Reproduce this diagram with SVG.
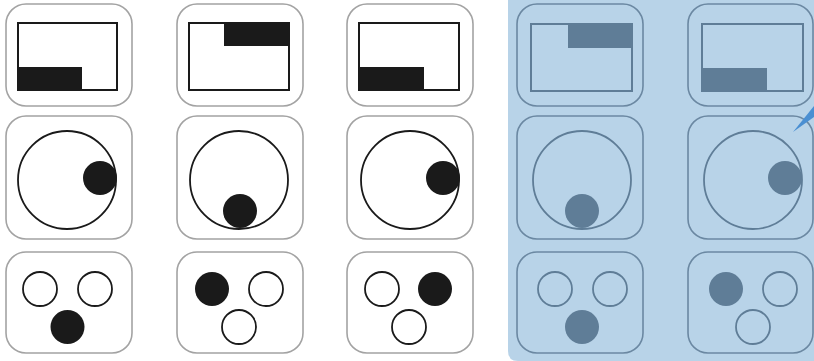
<svg xmlns="http://www.w3.org/2000/svg" width="814" height="361" viewBox="0 0 814 361">
<style>
.tile{fill:#ffffff;stroke:#a3a3a3;stroke-width:1.6}
.btile{fill:none;stroke:#6b88a2;stroke-width:1.6}
.frame{fill:none;stroke:#1a1a1a;stroke-width:2}
.bframe{fill:none;stroke:#5f7d97;stroke-width:2}
.blk{fill:#1a1a1a}
.dk{fill:#5f7d97}
.ring{fill:none;stroke:#1a1a1a;stroke-width:1.8}
.bring{fill:none;stroke:#5f7d97;stroke-width:1.8}
</style>
<rect x="0" y="0" width="814" height="361" fill="#ffffff"/>
<g id="panel">
<path d="M508,0 H814 V361 H518 Q508,361 508,351 Z" fill="#b8d3e8"/>
</g>
<g id="c1r1">
<rect class="tile" x="6" y="4" width="126" height="102" rx="20"/>
<rect class="frame" x="18" y="23" width="99" height="67"/>
<rect class="blk" x="18" y="67" width="64" height="23"/>
</g>
<g id="c2r1">
<rect class="tile" x="177" y="4" width="126" height="102" rx="20"/>
<rect class="frame" x="189" y="23" width="100" height="67"/>
<rect class="blk" x="224" y="23" width="65" height="23"/>
</g>
<g id="c3r1">
<rect class="tile" x="347" y="4" width="126" height="102" rx="20"/>
<rect class="frame" x="359" y="23" width="100" height="67"/>
<rect class="blk" x="359" y="67" width="65" height="23"/>
</g>
<g id="c4r1">
<rect class="btile" x="517" y="4" width="126" height="102" rx="20"/>
<rect class="bframe" x="531" y="24" width="101" height="67"/>
<rect class="dk" x="568" y="24" width="64" height="24"/>
</g>
<g id="c5r1">
<rect class="btile" x="688" y="4" width="125" height="102" rx="20"/>
<rect class="bframe" x="702" y="24" width="101" height="67"/>
<rect class="dk" x="702" y="68" width="65" height="23"/>
</g>
<g id="c1r2">
<rect class="tile" x="6" y="116" width="126" height="123" rx="20"/>
<circle class="ring" cx="67" cy="180" r="49"/>
<circle class="blk" cx="100" cy="178" r="17"/>
</g>
<g id="c2r2">
<rect class="tile" x="177" y="116" width="126" height="123" rx="20"/>
<circle class="ring" cx="239" cy="180" r="49"/>
<circle class="blk" cx="240" cy="211" r="17"/>
</g>
<g id="c3r2">
<rect class="tile" x="347" y="116" width="126" height="123" rx="20"/>
<circle class="ring" cx="410" cy="180" r="49"/>
<circle class="blk" cx="443" cy="178" r="17"/>
</g>
<g id="c4r2">
<rect class="btile" x="517" y="116" width="126" height="123" rx="20"/>
<circle class="bring" cx="582" cy="180" r="49"/>
<circle class="dk" cx="582" cy="211" r="17"/>
</g>
<g id="c5r2">
<rect class="btile" x="688" y="116" width="125" height="123" rx="20"/>
<circle class="bring" cx="753" cy="180" r="49"/>
<circle class="dk" cx="785" cy="178" r="17"/>
</g>
<g id="c1r3">
<rect class="tile" x="6" y="252" width="126" height="101" rx="20"/>
<circle class="ring" cx="40" cy="289" r="17"/>
<circle class="ring" cx="95" cy="289" r="17"/>
<circle class="blk" cx="67.5" cy="327" r="17"/>
</g>
<g id="c2r3">
<rect class="tile" x="177" y="252" width="126" height="101" rx="20"/>
<circle class="blk" cx="212" cy="289" r="17"/>
<circle class="ring" cx="266" cy="289" r="17"/>
<circle class="ring" cx="239" cy="327" r="17"/>
</g>
<g id="c3r3">
<rect class="tile" x="347" y="252" width="126" height="101" rx="20"/>
<circle class="ring" cx="382" cy="289" r="17"/>
<circle class="blk" cx="435" cy="289" r="17"/>
<circle class="ring" cx="409" cy="327" r="17"/>
</g>
<g id="c4r3">
<rect class="btile" x="517" y="252" width="126" height="101" rx="20"/>
<circle class="bring" cx="555" cy="289" r="17"/>
<circle class="bring" cx="610" cy="289" r="17"/>
<circle class="dk" cx="582" cy="327" r="17"/>
</g>
<g id="c5r3">
<rect class="btile" x="688" y="252" width="125" height="101" rx="20"/>
<circle class="dk" cx="726" cy="289" r="17"/>
<circle class="bring" cx="780" cy="289" r="17"/>
<circle class="bring" cx="753" cy="327" r="17"/>
</g>
<g id="connectors">
<polygon points="793,132 814,106 814,117" fill="#4a8fd2"/>
</g>
</svg>
